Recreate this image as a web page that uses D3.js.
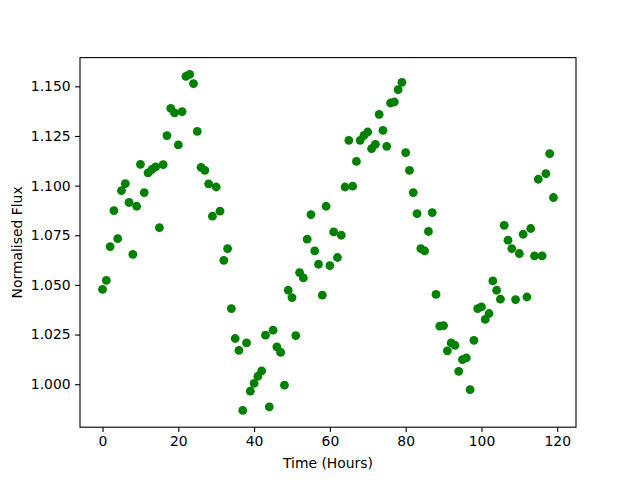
<!DOCTYPE html>
<html>
<head>
<meta charset="utf-8">
<script src="https://cdn.jsdelivr.net/npm/d3@7"></script>
<style>
	body { margin: 0; background: #ffffff; }
	text { font-family: "DejaVu Sans", sans-serif; }
</style>
</head>
<body>
<svg id="svg" width="640" height="480"></svg>
<script>
// hours since start of observation
var hours = d3.range(0, 120);

// normalised flux, one per hour
var flux = [
	1.0477, 1.0523, 1.0693, 1.0874, 1.0733, 1.0975, 1.1010, 1.0915, 1.0654, 1.0896,
	1.1107, 1.0965, 1.1064, 1.1081, 1.1094, 1.0788, 1.1106, 1.1252, 1.1389, 1.1366,
	1.1205, 1.1373, 1.1550, 1.1560, 1.1514, 1.1273, 1.1092, 1.1077, 1.1009, 1.0846,
	1.0993, 1.0871, 1.0623, 1.0683, 1.0381, 1.0230, 1.0170, 0.9868, 1.0208, 0.9965,
	1.0004, 1.0040, 1.0067, 1.0247, 0.9886, 1.0272, 1.0188, 1.0160, 0.9995, 1.0473,
	1.0436, 1.0245, 1.0562, 1.0535, 1.0730, 1.0854, 1.0671, 1.0604, 1.0448, 1.0896,
	1.0597, 1.0767, 1.0638, 1.0750, 1.0993, 1.1228, 1.0997, 1.1122, 1.1228, 1.1253,
	1.1270, 1.1186, 1.1208, 1.1359, 1.1278, 1.1198, 1.1416, 1.1421, 1.1483, 1.1520,
	1.1166, 1.1077, 1.0965, 1.0859, 1.0683, 1.0671, 1.0769, 1.0864, 1.0452, 1.0292,
	1.0295, 1.0168, 1.0208, 1.0196, 1.0065, 1.0124, 1.0132, 0.9973, 1.0221, 1.0381,
	1.0389, 1.0326, 1.0356, 1.0520, 1.0473, 1.0428, 1.0800, 1.0725, 1.0683, 1.0426,
	1.0658, 1.0755, 1.0439, 1.0784, 1.0646, 1.1032, 1.0646, 1.1060, 1.1161, 1.0940
];

var xTicks = [0, 20, 40, 60, 80, 100, 120];
var yTicks = [1.000, 1.025, 1.050, 1.075, 1.100, 1.125, 1.150];

var xLabel = "Time (Hours)";
var yLabel = "Normalised Flux";

var dotR = 4.4;
var dotColor = "#008000";

draw();

function draw() {
	"use strict"

	// matplotlib default axes box
	var left = 80, right = 576, top = 57.6, bottom = 427.2;

	var points = hours.map(function(h, i){ return {t: h, f: flux[i]}; });

	// 5% margin on each side like autoscale
	var xExt = d3.extent(hours);
	var xPad = (xExt[1] - xExt[0]) * 0.05;
	var yExt = d3.extent(flux);
	var yPad = (yExt[1] - yExt[0]) * 0.05;

	var x = d3.scaleLinear()
		.domain([xExt[0] - xPad, xExt[1] + xPad])
		.range([left, right]);
	var y = d3.scaleLinear()
		.domain([yExt[0] - yPad, yExt[1] + yPad])
		.range([bottom, top]);

	var svg = d3.select("#svg");

	// dots
	svg.append("g")
		.attr("id", "dots")
		.selectAll("circle")
		.data(points)
		.enter()
		.append("circle")
		.attr("cx", function(d){ return x(d.t); })
		.attr("cy", function(d){ return y(d.f); })
		.attr("r", dotR)
		.attr("fill", dotColor);

	// axes
	var xAxis = d3.axisBottom(x)
		.tickValues(xTicks)
		.tickFormat(d3.format("d"))
		.tickSize(4.9)
		.tickPadding(4.5)
		.tickSizeOuter(0);
	var yAxis = d3.axisLeft(y)
		.tickValues(yTicks)
		.tickFormat(d3.format(".3f"))
		.tickSize(4.9)
		.tickPadding(4.5)
		.tickSizeOuter(0);

	var gx = svg.append("g")
		.attr("transform", "translate(0," + bottom + ")")
		.call(xAxis);
	var gy = svg.append("g")
		.attr("transform", "translate(" + left + ",0)")
		.call(yAxis);

	[gx, gy].forEach(function(g){
		g.select(".domain").remove();
		g.selectAll("line").attr("stroke", "#000").attr("stroke-width", 1.1);
		g.selectAll("text")
			.attr("fill", "#000")
			.style("font-size", "13.9px")
			.style("font-family", "'DejaVu Sans', sans-serif");
	});

	// frame
	svg.append("rect")
		.attr("x", left)
		.attr("y", top)
		.attr("width", right - left)
		.attr("height", bottom - top)
		.attr("fill", "none")
		.attr("stroke", "#000")
		.attr("stroke-width", 1.1);

	// labels
	svg.append("text")
		.attr("x", (left + right) / 2)
		.attr("y", 468)
		.attr("text-anchor", "middle")
		.style("font-size", "13.9px")
		.text(xLabel);

	svg.append("text")
		.attr("transform", "translate(22," + (top + bottom) / 2 + ") rotate(-90)")
		.attr("text-anchor", "middle")
		.style("font-size", "13.9px")
		.text(yLabel);
}
</script>
</body>
</html>
